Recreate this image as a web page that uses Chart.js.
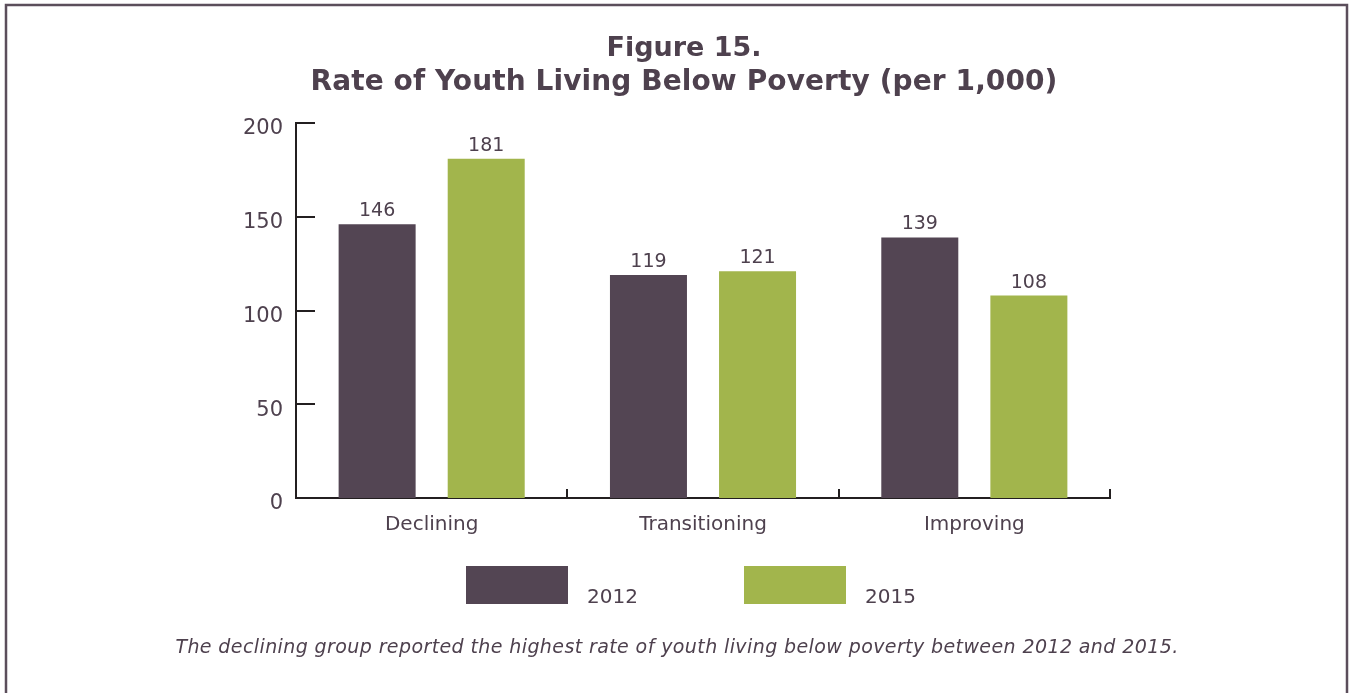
<!DOCTYPE html>
<html>
<head>
<meta charset="utf-8">
<script src="https://cdn.jsdelivr.net/npm/chart.js@4/dist/chart.umd.min.js"></script>
<style>
  html, body { margin: 0; padding: 0; background: #fff; }
  #wrap { width: 1351px; height: 693px; position: relative; }
</style>
</head>
<body>
<div id="wrap"><canvas id="myChart" width="1351" height="693"></canvas></div>
<script>
// groups and yearly rates (per 1,000)
var categories = ["Declining", "Transitioning", "Improving"];
var years = ["2012", "2015"];
var rates2012 = [146, 119, 139];
var rates2015 = [181, 121, 108];
var yTicks = [0, 50, 100, 150, 200];

var titleLines = ["Figure 15.", "Rate of Youth Living Below Poverty (per 1,000)"];
var caption = "The declining group reported the highest rate of youth living below poverty between 2012 and 2015.";

var textColor = "#4e414e";
var axisColor = "#231f20";
var barColors = ["#534553", "#a2b54c"];
var fontFamily = "'DejaVu Sans', Verdana, sans-serif";

// frame, title, value labels, inward ticks, legend and caption
var decorPlugin = {
  id: "decor",
  afterDraw: function (chart) {
    var ctx = chart.ctx;
    var area = chart.chartArea;
    var xs = chart.scales.x;
    var ys = chart.scales.y;
    ctx.save();

    // outer frame (open at the bottom)
    ctx.strokeStyle = "#5b4e5b";
    ctx.lineWidth = 2.5;
    ctx.beginPath();
    ctx.moveTo(6, 693);
    ctx.lineTo(6, 5);
    ctx.lineTo(1347, 5);
    ctx.lineTo(1347, 693);
    ctx.stroke();

    // title
    ctx.fillStyle = textColor;
    ctx.textAlign = "center";
    ctx.textBaseline = "middle";
    ctx.font = "bold 27px " + fontFamily;
    ctx.fillText(titleLines[0], 684, 49);
    ctx.font = "bold 28px " + fontFamily;
    ctx.letterSpacing = "0.1px";
    ctx.fillText(titleLines[1], 684, 83);
    ctx.letterSpacing = "0px";

    // inward ticks on the value axis
    ctx.strokeStyle = axisColor;
    ctx.lineWidth = 2;
    ys.ticks.forEach(function (t) {
      var y = Math.round(ys.getPixelForValue(t.value));
      ctx.beginPath();
      ctx.moveTo(area.left, y);
      ctx.lineTo(area.left + 19, y);
      ctx.stroke();
    });
    // category boundary ticks on the x axis
    var catW = (area.right - area.left) / categories.length;
    for (var i = 1; i <= categories.length; i++) {
      var x = Math.round(xs.getPixelForValue(i - 1) + catW / 2);
      ctx.beginPath();
      ctx.moveTo(x, area.bottom);
      ctx.lineTo(x, area.bottom - 9);
      ctx.stroke();
    }

    // value labels above the bars
    ctx.fillStyle = textColor;
    ctx.font = "19px " + fontFamily;
    ctx.textAlign = "center";
    ctx.textBaseline = "alphabetic";
    chart.data.datasets.forEach(function (ds, di) {
      var meta = chart.getDatasetMeta(di);
      meta.data.forEach(function (bar, bi) {
        ctx.fillText(String(ds.data[bi]), bar.x, bar.y - 8);
      });
    });

    // legend
    var legendX = [466, 744];
    ctx.font = "20px " + fontFamily;
    ctx.textAlign = "left";
    chart.data.datasets.forEach(function (ds, di) {
      ctx.fillStyle = ds.backgroundColor;
      ctx.fillRect(legendX[di], 566, 102, 38);
      ctx.fillStyle = textColor;
      ctx.fillText(ds.label, legendX[di] + 121, 603);
    });

    // caption
    ctx.font = "italic 19px " + fontFamily;
    ctx.letterSpacing = "0.4px";
    ctx.textAlign = "center";
    ctx.textBaseline = "middle";
    ctx.fillText(caption, 677, 648);

    ctx.restore();
  }
};

var config = {
  type: "bar",
  data: {
    labels: categories,
    datasets: [
      { label: years[0], data: rates2012, backgroundColor: barColors[0] },
      { label: years[1], data: rates2015, backgroundColor: barColors[1] }
    ]
  },
  options: {
    responsive: false,
    animation: false,
    devicePixelRatio: 1,
    categoryPercentage: 0.804,
    barPercentage: 0.706,
    layout: {
      padding: { left: 230, right: 241, top: 123, bottom: 155 }
    },
    plugins: {
      legend: { display: false },
      title: { display: false },
      tooltip: { enabled: false }
    },
    scales: {
      x: {
        grid: { display: false, drawTicks: false },
        border: { display: true, color: axisColor, width: 2 },
        ticks: {
          color: textColor,
          padding: 15,
          font: { size: 20, family: fontFamily }
        },
        afterFit: function (scale) { scale.height = 40; }
      },
      y: {
        min: 0,
        max: 200,
        afterBuildTicks: function (scale) {
          scale.ticks = yTicks.map(function (v) { return { value: v }; });
        },
        grid: { display: false, drawTicks: false },
        border: { display: true, color: axisColor, width: 2 },
        ticks: {
          color: textColor,
          padding: 13,
          labelOffset: 6,
          font: { size: 21, family: fontFamily }
        },
        afterFit: function (scale) { scale.width = 66; }
      }
    }
  },
  plugins: [decorPlugin]
};

var myChart = new Chart(document.getElementById("myChart").getContext("2d"), config);
</script>
</body>
</html>
